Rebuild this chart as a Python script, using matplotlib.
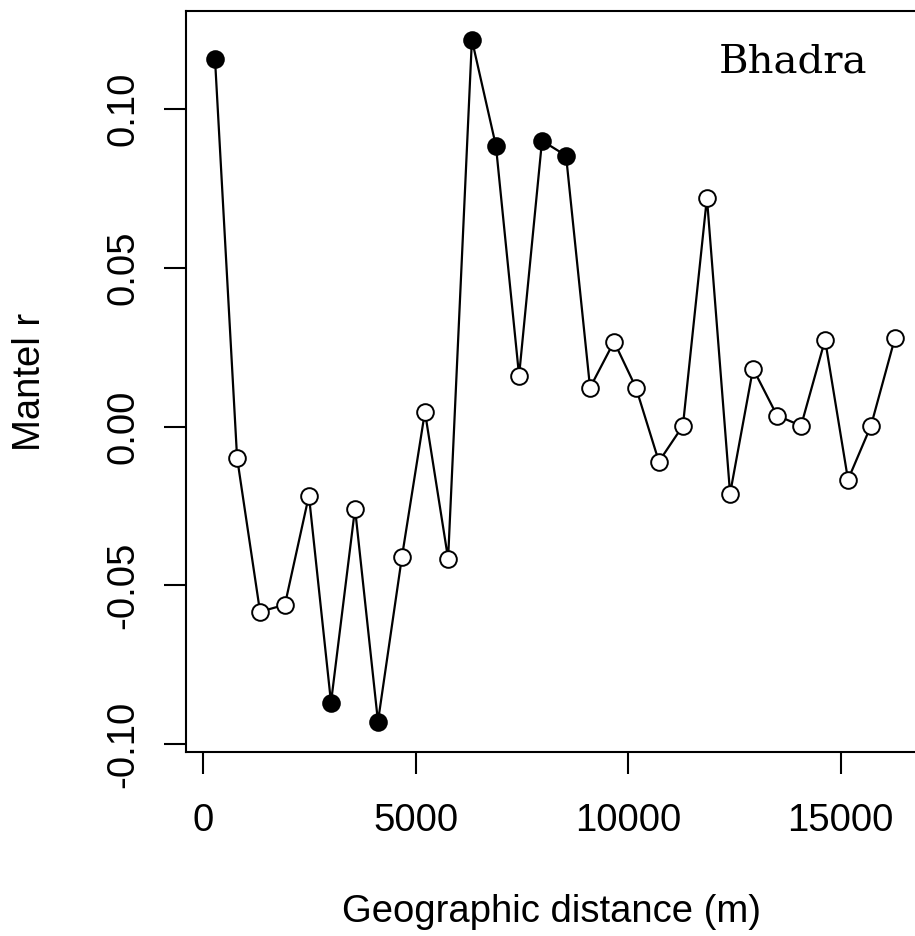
import matplotlib
matplotlib.use("Agg")
import matplotlib.pyplot as plt
import numpy as np

# Distance class centres (m)
distance = [275, 795, 1335, 1920, 2485, 3005, 3570, 4110, 4675, 5215,
            5760, 6320, 6885, 7430, 7970, 8535, 9100, 9665, 10180, 10720,
            11285, 11850, 12395, 12935, 13500, 14065, 14630, 15170, 15710, 16275]
# Mantel r per class
mantel_r = [0.1159, -0.0098, -0.0583, -0.0561, -0.0217, -0.0869, -0.0258, -0.0929,
            -0.0409, 0.0047, -0.0416, 0.1219, 0.0885, 0.0161, 0.0901, 0.0854,
            0.0123, 0.0268, 0.0123, -0.0110, 0.0003, 0.0721, -0.0211, 0.0183,
            0.0035, 0.0003, 0.0274, -0.0167, 0.0003, 0.0280]
# significant classes (filled symbols)
significant = [True, False, False, False, False, True, False, True,
               False, False, False, True, True, False, True, True,
               False, False, False, False, False, False, False, False,
               False, False, False, False, False, False]

xticks = [0, 5000, 10000, 15000]
yticks = [-0.10, -0.05, 0.00, 0.05, 0.10]
ytick_labels = ["-0.10", "-0.05", "0.00", "0.05", "0.10"]

W, H = 915, 936
fig = plt.figure(figsize=(W / 100, H / 100), dpi=100)
left_px, right_px, top_px, bottom_px = 186, 922, 11, 752
ax = fig.add_axes([left_px / W, 1 - bottom_px / H,
                   (right_px - left_px) / W, (bottom_px - top_px) / H])

x0_px, per_m = 203.3, 0.0425
ax.set_xlim((left_px - x0_px) / per_m, (right_px - x0_px) / per_m)
y0_px, per_u = 426.7, 3174.0
ax.set_ylim((y0_px - bottom_px) / per_u, (y0_px - top_px) / per_u)

x = np.array(distance)
y = np.array(mantel_r)
sig = np.array(significant)
ax.plot(x, y, color="black", lw=1.6, zorder=2)
ax.plot(x[~sig], y[~sig], "o", ms=12, mfc="white", mec="black", mew=1.4, ls="none", zorder=3)
ax.plot(x[sig], y[sig], "o", ms=12, mfc="black", mec="black", mew=1.4, ls="none", zorder=3)

font = "Liberation Sans"
fs = 27.5
ax.set_xticks(xticks)
ax.set_xticklabels([str(t) for t in xticks], fontfamily=font, fontsize=fs)
ax.set_yticks(yticks)
ax.set_yticklabels(ytick_labels, fontfamily=font, fontsize=fs, rotation=90, va="center")
ax.tick_params(axis="both", direction="out", length=16, width=1.5, color="black")
ax.tick_params(axis="x", pad=21)
ax.tick_params(axis="y", pad=16)
for s in ax.spines.values():
    s.set_linewidth(1.5)

fig.text(552 / W, 1 - 912 / H, "Geographic distance (m)", fontfamily=font, fontsize=fs,
         ha="center", va="center")
fig.text(30 / W, 1 - 382 / H, "Mantel r", fontfamily=font, fontsize=fs,
         ha="center", va="center", rotation=90)
fig.text(793 / W, 1 - 62 / H, "Bhadra", fontfamily="DejaVu Serif", fontsize=29,
         ha="center", va="center")

fig.savefig("out.png", dpi=100)
